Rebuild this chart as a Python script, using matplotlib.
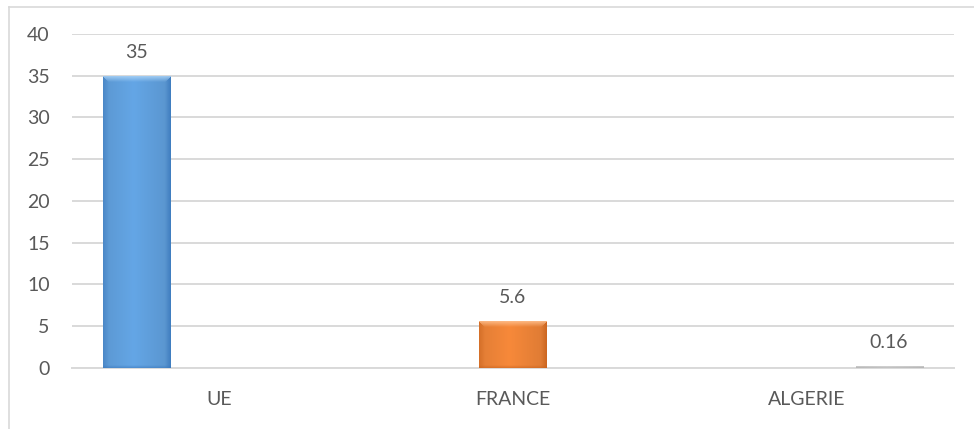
import numpy as np
import matplotlib
matplotlib.use("Agg")
import matplotlib.pyplot as plt
from matplotlib.lines import Line2D

# chart data
categories = ["UE", "FRANCE", "ALGERIE"]
values = [35, 5.6, 0.16]
value_labels = ["35", "5.6", "0.16"]

# bar colours: (face, edge shade, top highlight)
palette = [
    ("#64a6e6", "#3a78bd", "#a9d2f6"),
    ("#f7893a", "#c9621c", "#ffc08e"),
    ("#d2d2d2", "#b4b4b4", "#e6e6e6"),
]

plt.rcParams["font.family"] = ["Lato", "DejaVu Sans"]
text_col = "#595959"
grid_col = "#d9d9d9"

W, H = 974, 429
fig = plt.figure(figsize=(W / 100, H / 100), dpi=100)
ax = fig.add_axes([72 / W, 1 - 367.6 / H, (954 - 72) / W, (367.6 - 34) / H])

# each category holds its own series slot: left, middle, right
step = 0.279
width = 0.228
x = np.arange(len(categories))
xpos = x + (x - 1) * step

bars = ax.bar(xpos, values, width=width, color=[p[0] for p in palette],
              zorder=3, linewidth=0)

ax.set_xlim(-0.5, len(categories) - 0.5)
ax.set_ylim(0, 40)
ax.set_yticks(np.arange(0, 41, 5))
ax.set_xticks(x)
ax.set_xticklabels(categories)
ax.yaxis.grid(True, color=grid_col, linewidth=1.4, zorder=0)
ax.set_axisbelow(True)
for s in ["top", "right", "left"]:
    ax.spines[s].set_visible(False)
ax.spines["bottom"].set_color(grid_col)
ax.spines["bottom"].set_linewidth(1.4)
ax.tick_params(axis="both", length=0, labelsize=14, colors=text_col)
ax.tick_params(axis="y", pad=16)
ax.tick_params(axis="x", pad=17)


def to_rgb(c):
    return np.array(matplotlib.colors.to_rgb(c))


def bevel_image(h, w, face, dark, hi, b=6.0):
    yy, xx = np.mgrid[0:h, 0:w] + 0.5
    dl, dr, dt, db = xx, w - xx, yy, h - yy
    face, dark, hi = to_rgb(face), to_rgb(dark), to_rgb(hi)
    img = np.ones((h, w, 3)) * face
    # soft horizontal falloff, a bit darker on the right
    t = xx / w
    img = img * (1 - 0.10 * np.abs(t - 0.45)[..., None] * 2)
    side = np.clip(1 - np.minimum(dl, dr) / b, 0, 1)
    side_r = np.where(dr < dl, 1.0, 0.6)
    k = (side * side_r)[..., None] * 0.85
    img = img * (1 - k) + dark * k
    top = np.clip(1 - dt / b, 0, 1) * (dt < np.minimum(dl, dr) + 1)
    k = top[..., None] * 0.9
    img = img * (1 - k) + hi * k
    bot = np.clip(1 - db / 3.0, 0, 1)[..., None] * 0.6
    img = img * (1 - bot) + dark * bot
    return np.clip(img, 0, 1)


fig.canvas.draw()
renderer = fig.canvas.get_renderer()
for bar, (face, dark, hi) in zip(bars, palette):
    ext = bar.get_window_extent(renderer)
    wpx = max(int(round(ext.width)), 2)
    hpx = max(int(round(ext.height)), 2)
    img = bevel_image(hpx, wpx, face, dark, hi, b=min(6.0, hpx / 2))
    x0 = bar.get_x()
    im = ax.imshow(img, extent=(x0, x0 + bar.get_width(), 0, bar.get_height()),
                   aspect="auto", zorder=4, interpolation="bilinear")
    im.set_clip_path(bar)

ax.set_xlim(-0.5, len(categories) - 0.5)
ax.set_ylim(0, 40)

# value labels above the bars
for bar, lab in zip(bars, value_labels):
    ax.annotate(lab, (bar.get_x() + bar.get_width() / 2, bar.get_height()),
                xytext=(0, 18), textcoords="offset pixels", ha="center",
                va="baseline", fontsize=14, color=text_col, zorder=5)

# outer chart frame
fig.add_artist(Line2D([8.5 / W, 8.5 / W], [0, 1 - 6.5 / H],
                      transform=fig.transFigure, color=grid_col, linewidth=1.2))
fig.add_artist(Line2D([8.5 / W, 1], [1 - 6.5 / H, 1 - 6.5 / H],
                      transform=fig.transFigure, color=grid_col, linewidth=1.2))

fig.savefig("out.png", dpi=100)
